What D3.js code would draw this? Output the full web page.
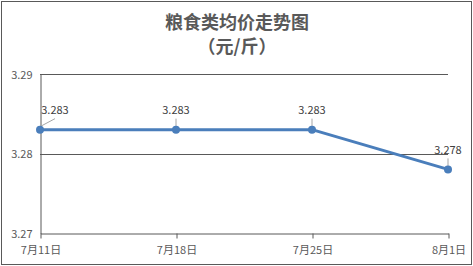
<!DOCTYPE html>
<html>
<head>
<meta charset="utf-8">
<script src="https://cdn.jsdelivr.net/npm/d3@7"></script>
<style>
  html, body { margin: 0; padding: 0; background: #fff; }
  svg { display: block; }
</style>
</head>
<body>
<script>
// Weekly average grain price (yuan per jin)
const dates = ["7月11日", "7月18日", "7月25日", "8月1日"];
const prices = [3.283, 3.283, 3.283, 3.278];
const yTicks = [3.27, 3.28, 3.29];
const titleLines = ["粮食类均价走势图", "（元/斤）"];

const W = 473, H = 266;
const textColor = "#595959";
const lineColor = "#4a7ebb";
const font = "'Noto Sans CJK SC', 'Noto Sans', sans-serif";

const svg = d3.select("body").append("svg")
  .attr("width", W).attr("height", H);

svg.append("rect")
  .attr("x", 1.5).attr("y", 1.5)
  .attr("width", W - 3).attr("height", H - 3)
  .attr("fill", "#fff").attr("stroke", "#595959").attr("stroke-width", 1);

// title
svg.selectAll("text.title").data(titleLines).join("text")
  .attr("class", "title")
  .attr("x", 237).attr("y", (d, i) => 29 + i * 24)
  .attr("text-anchor", "middle")
  .attr("font-family", font)
  .attr("font-size", 18)
  .attr("font-weight", 600)
  .attr("fill", textColor)
  .text(d => d);

const x = d3.scalePoint().domain(dates).range([40, 448]);
const y = d3.scaleLinear().domain([3.27, 3.29]).range([233, 74]);

// horizontal gridlines
svg.append("g").selectAll("line").data(yTicks.slice(1)).join("line")
  .attr("x1", 40).attr("x2", 448)
  .attr("y1", d => Math.round(y(d)) + 0.5).attr("y2", d => Math.round(y(d)) + 0.5)
  .attr("stroke", "#595959").attr("stroke-width", 1);

// left axis
const yAxis = svg.append("g")
  .attr("transform", "translate(40.5,0.5)")
  .call(d3.axisLeft(y).tickValues(yTicks).tickSize(0).tickPadding(8).tickFormat(d3.format(".2f")));
yAxis.select(".domain").attr("stroke", "#595959");
yAxis.selectAll("text")
  .attr("font-family", font).attr("font-size", 11).attr("fill", textColor);

// bottom axis
const xAxis = svg.append("g")
  .attr("transform", `translate(0.5,${Math.round(y(3.27)) + 0.5})`)
  .call(d3.axisBottom(x).tickSize(5).tickSizeOuter(0).tickPadding(8));
xAxis.select(".domain").attr("stroke", "#595959");
xAxis.selectAll(".tick line").attr("stroke", "#595959");
xAxis.selectAll("text")
  .attr("font-family", font).attr("font-size", 11).attr("fill", textColor);

const pts = dates.map((d, i) => ({ d, v: prices[i] }));

// price line
svg.append("path")
  .datum(pts)
  .attr("fill", "none")
  .attr("stroke", lineColor)
  .attr("stroke-width", 3)
  .attr("stroke-linejoin", "round")
  .attr("d", d3.line().x(p => x(p.d)).y(p => y(p.v)));

// leader lines and value labels
const labelOffset = [[15, -20], [0, -20], [0, -20], [0, -19]];
svg.append("g").selectAll("line").data(pts).join("line")
  .attr("x1", (p, i) => x(p.d) + (i === 0 ? 15 : 0))
  .attr("y1", p => y(p.v) - 11)
  .attr("x2", p => x(p.d))
  .attr("y2", p => y(p.v) - 3)
  .attr("stroke", "#a6a6a6").attr("stroke-width", 1);

svg.selectAll("circle").data(pts).join("circle")
  .attr("cx", p => x(p.d)).attr("cy", p => y(p.v))
  .attr("r", 4)
  .attr("fill", lineColor);

svg.append("g").selectAll("text").data(pts).join("text")
  .attr("x", (p, i) => x(p.d) + labelOffset[i][0])
  .attr("y", (p, i) => y(p.v) + labelOffset[i][1] + 4)
  .attr("text-anchor", "middle")
  .attr("font-family", font).attr("font-size", 11)
  .attr("fill", "#404040")
  .text(p => p.v.toFixed(3));
</script>
</body>
</html>
